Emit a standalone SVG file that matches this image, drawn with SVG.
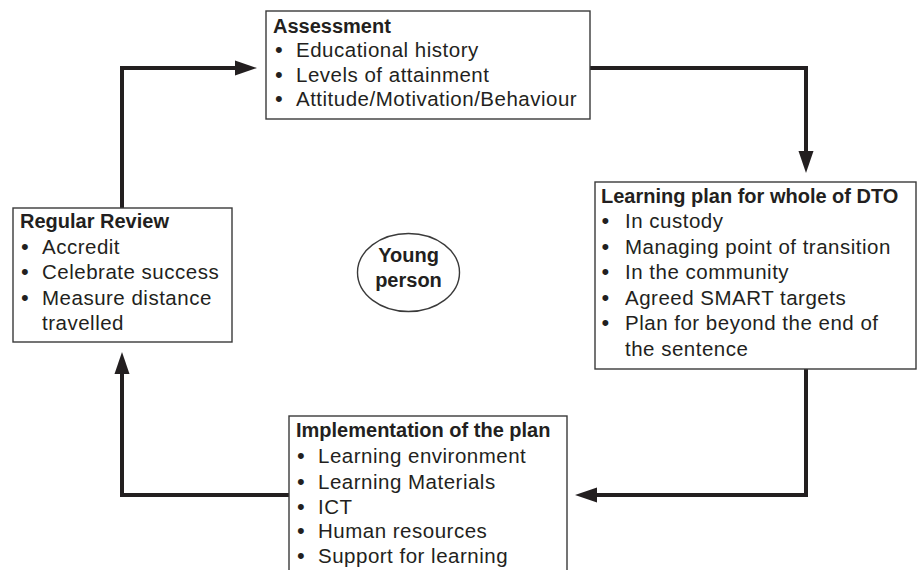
<svg xmlns="http://www.w3.org/2000/svg" width="918" height="570" viewBox="0 0 918 570">
<style>
.box{fill:#fff;stroke:#3a3a3a;stroke-width:1.4}
.h{font-family:"Liberation Sans",Arial,sans-serif;font-weight:bold;font-size:20px;fill:#231f20}
.t{font-family:"Liberation Sans",Arial,sans-serif;font-size:20.5px;letter-spacing:0.5px;fill:#231f20}
.b{font-family:"Liberation Sans",Arial,sans-serif;font-size:22px;fill:#231f20}
.c{fill:none;stroke:#231f20;stroke-width:4;stroke-linejoin:miter}
</style>
<defs>
<marker id="ah" markerUnits="userSpaceOnUse" markerWidth="24" markerHeight="16" refX="0" refY="8" orient="auto" viewBox="0 0 24 16">
<path d="M0,0.5 L22,8 L0,15.5 z" fill="#231f20"/>
</marker>
</defs>
<rect width="918" height="570" fill="#fff"/>
<g id="connectors">
<path class="c" d="M122,208 V68 H235" marker-end="url(#ah)"/>
<path class="c" d="M590,68 H806 V151" marker-end="url(#ah)"/>
<path class="c" d="M806,369 V495 H597" marker-end="url(#ah)"/>
<path class="c" d="M289,495 H122 V374" marker-end="url(#ah)"/>
</g>
<g id="assessment">
<rect class="box" x="266" y="11" width="324" height="108"/>
<text class="h" x="273" y="33">Assessment</text>
<text class="b" x="275" y="57">•</text><text class="t" x="296" y="57">Educational history</text>
<text class="b" x="275" y="81.5">•</text><text class="t" x="296" y="81.5">Levels of attainment</text>
<text class="b" x="275" y="106">•</text><text class="t" x="296" y="106">Attitude/Motivation/Behaviour</text>
</g>
<g id="learning-plan">
<rect class="box" x="595" y="182" width="321" height="187"/>
<text class="h" x="601" y="203">Learning plan for whole of DTO</text>
<text class="b" x="601.5" y="228">•</text><text class="t" x="625" y="228">In custody</text>
<text class="b" x="601.5" y="253.5">•</text><text class="t" x="625" y="253.5">Managing point of transition</text>
<text class="b" x="601.5" y="279">•</text><text class="t" x="625" y="279">In the community</text>
<text class="b" x="601.5" y="304.5">•</text><text class="t" x="625" y="304.5">Agreed SMART targets</text>
<text class="b" x="601.5" y="330">•</text><text class="t" x="625" y="330">Plan for beyond the end of</text>
<text class="t" x="625" y="355.5">the sentence</text>
</g>
<g id="implementation">
<rect class="box" x="289" y="416" width="278" height="160"/>
<text class="h" x="296" y="437">Implementation of the plan</text>
<text class="b" x="297" y="463">•</text><text class="t" x="318" y="463">Learning environment</text>
<text class="b" x="297" y="488.5">•</text><text class="t" x="318" y="488.5">Learning Materials</text>
<text class="b" x="297" y="513.5">•</text><text class="t" x="318" y="513.5">ICT</text>
<text class="b" x="297" y="538">•</text><text class="t" x="318" y="538">Human resources</text>
<text class="b" x="297" y="563">•</text><text class="t" x="318" y="563">Support for learning</text>
</g>
<g id="regular-review">
<rect class="box" x="13" y="208" width="219" height="134"/>
<text class="h" x="20" y="228">Regular Review</text>
<text class="b" x="21" y="254">•</text><text class="t" x="42" y="254">Accredit</text>
<text class="b" x="21" y="279">•</text><text class="t" x="42" y="279">Celebrate success</text>
<text class="b" x="21" y="305">•</text><text class="t" x="42" y="305">Measure distance</text>
<text class="t" x="42" y="330">travelled</text>
</g>
<g id="young-person">
<ellipse class="box" cx="408.5" cy="272.5" rx="51" ry="39"/>
<text class="h" x="408.5" y="262" text-anchor="middle">Young</text>
<text class="h" x="408.5" y="287" text-anchor="middle">person</text>
</g>
</svg>
